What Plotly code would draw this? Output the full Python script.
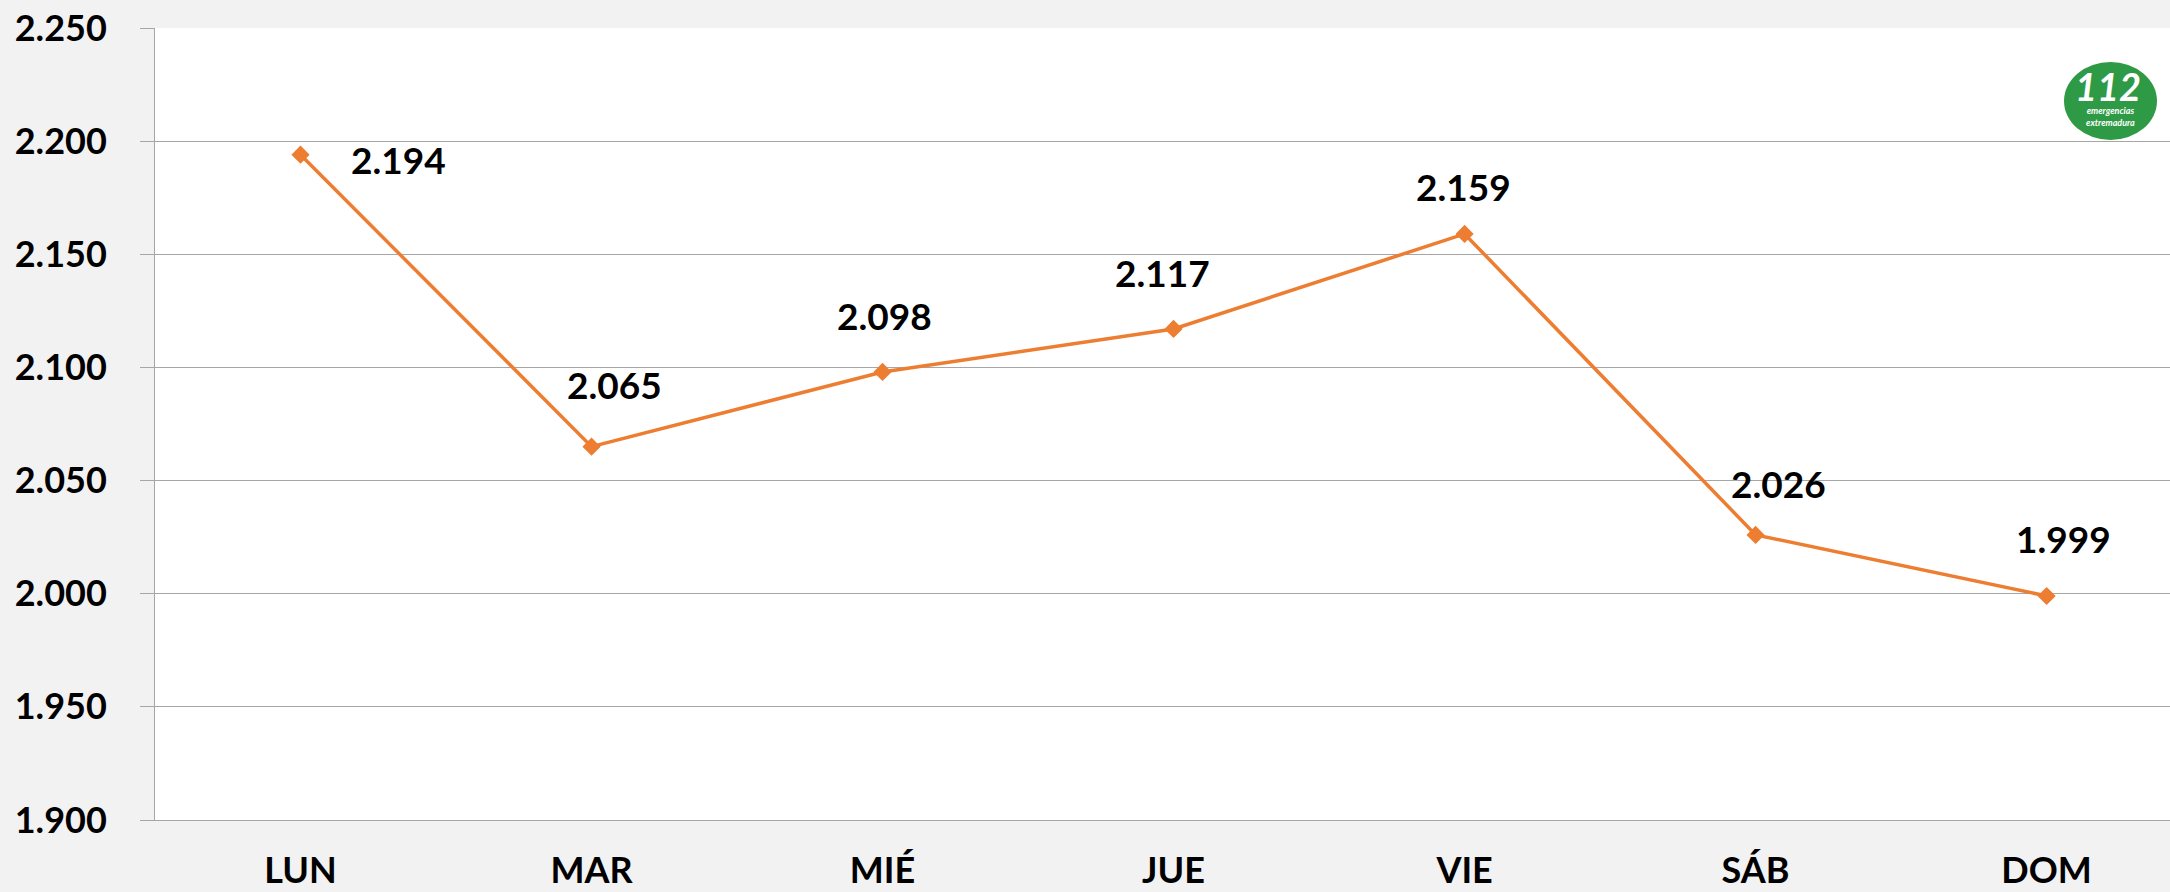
import plotly.graph_objects as go

days = ["LUN", "MAR", "MIÉ", "JUE", "VIE", "SÁB", "DOM"]
values = [2194, 2065, 2098, 2117, 2159, 2026, 1999]
value_labels = ["2.194", "2.065", "2.098", "2.117", "2.159", "2.026", "1.999"]
y_ticks = [1900, 1950, 2000, 2050, 2100, 2150, 2200, 2250]
y_tick_labels = ["1.900", "1.950", "2.000", "2.050", "2.100", "2.150", "2.200", "2.250"]

# label offsets (pixels) relative to each point
label_dx = [98, 23, 2, -11, -1, 23, 17]
label_dy = [-5, 62, 56, 56, 47, 51, 57]

ORANGE = "#ED7D31"
GRID = "#a6a6a6"
FONT = "Lato"
FS = 36

fig = go.Figure()
fig.add_trace(go.Scatter(
    x=days, y=values, mode="lines+markers",
    line=dict(color=ORANGE, width=3.5),
    marker=dict(symbol="diamond", size=14, color=ORANGE),
    hoverinfo="skip", showlegend=False,
))

for d, v, t, dx, dy in zip(days, values, value_labels, label_dx, label_dy):
    fig.add_annotation(x=d, y=v, text="<b>%s</b>" % t, showarrow=False,
                       xshift=dx, yshift=dy, xanchor="center", yanchor="middle",
                       font=dict(family=FONT, size=FS + 1, color="#000000"))

# logo
fig.add_shape(type="circle", xref="paper", yref="paper",
              x0=(2064 - 155) / 2015, x1=(2157 - 155) / 2015,
              y0=(820 - 140) / 792, y1=(820 - 62) / 792,
              fillcolor="#2e9a45", line=dict(width=0), layer="above")
fig.add_annotation(xref="paper", yref="paper", x=(2108 - 155) / 2015, y=(820 - 86) / 792,
                   xanchor="center", yanchor="middle",
                   text="<b><i>112</i></b>", showarrow=False,
                   font=dict(family=FONT, size=38, color="white"))
fig.add_annotation(xref="paper", yref="paper", x=(2110 - 155) / 2015, y=(820 - 116) / 792,
                   xanchor="center", yanchor="middle",
                   text="<b><i>emergencias<br>extremadura</i></b>", showarrow=False,
                   font=dict(family=FONT, size=9, color="white"))

fig.update_layout(
    width=2170, height=892, autosize=False,
    margin=dict(l=155, r=0, t=28, b=72, pad=0),
    paper_bgcolor="#f2f2f2", plot_bgcolor="#ffffff",
    font=dict(family=FONT, size=FS, color="#000000"),
)
fig.update_xaxes(
    type="category", range=[-0.5, 6.424], automargin=False,
    showgrid=False, showline=True, linecolor=GRID, linewidth=1,
    ticks="", tickfont=dict(family=FONT, size=FS, color="#000000", weight="bold"),
    ticklabelstandoff=19,
)
fig.update_yaxes(
    range=[1900, 2250], tickvals=y_ticks, ticktext=y_tick_labels, automargin=False,
    showgrid=True, gridcolor=GRID, gridwidth=1,
    showline=True, linecolor=GRID, linewidth=1,
    ticks="outside", ticklen=14, tickcolor=GRID,
    tickfont=dict(family=FONT, size=FS, color="#000000", weight="bold"),
    ticklabelstandoff=26, zeroline=False,
)

fig.write_html("out.html", config={"displayModeBar": False},
               post_script="document.body.style.margin='0';document.body.style.overflow='hidden';")
